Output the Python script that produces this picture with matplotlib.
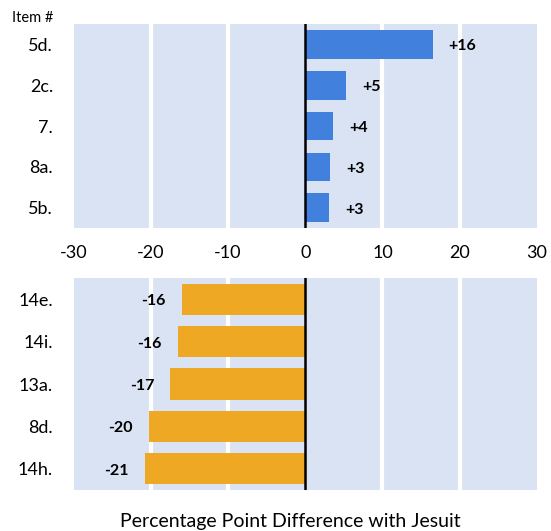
import matplotlib.pyplot as plt
import numpy as np

plt.rcParams['font.family'] = ['Lato', 'DejaVu Sans']

# 上面板：正向差异
top_items = ["5d.", "2c.", "7.", "8a.", "5b."]
top_vals = [16.5, 5.3, 3.6, 3.2, 3.1]
top_labels = ["+16", "+5", "+4", "+3", "+3"]

# 下面板：负向差异
bot_items = ["14e.", "14i.", "13a.", "8d.", "14h."]
bot_vals = [-16.0, -16.5, -17.5, -20.3, -20.8]
bot_labels = ["-16", "-16", "-17", "-20", "-21"]

xticks = [-30, -20, -10, 0, 10, 20, 30]

bg = "#dae3f3"
blue = "#4180dc"
orange = "#efa823"

fig = plt.figure(figsize=(5.51, 5.31), dpi=100)
ax1 = fig.add_axes([0.134, 0.5706, 0.840, 0.384])
ax2 = fig.add_axes([0.134, 0.0772, 0.840, 0.399])

def draw_panel(ax, items, vals, labels, color, height):
    ax.set_facecolor(bg)
    y = np.arange(len(items))
    for g in [-20, -10, 10, 20]:
        ax.axvline(g, color="white", lw=3, zorder=1)
    ax.barh(y, vals, height=height, color=color, zorder=2)
    ax.axvline(0, color="black", lw=1.8, zorder=3)
    for yi, v, lab in zip(y, vals, labels):
        off = 16 if v > 0 else -16
        ax.annotate(lab, (v, yi), xytext=(off, -2), textcoords="offset pixels",
                    ha="left" if v > 0 else "right", va="center",
                    fontsize=11.5, fontweight="bold", color="black")
    ax.set_xlim(-30, 30)
    ax.set_ylim(len(items) - 0.5, -0.5)
    ax.set_yticks(y)
    ax.set_yticklabels(items, fontsize=13)
    ax.tick_params(axis="y", length=0, pad=15)
    for s in ax.spines.values():
        s.set_visible(False)

draw_panel(ax1, top_items, top_vals, top_labels, blue, 0.7)
draw_panel(ax2, bot_items, bot_vals, bot_labels, orange, 0.74)

ax1.set_xticks(xticks)
ax1.set_xticklabels([str(t) for t in xticks], fontsize=13)
ax1.tick_params(axis="x", length=0, pad=12)
ax2.set_xticks([])

fig.text(53 / 551, 1 - 18 / 531, "Item #", fontsize=10.5, ha="right", va="center")
fig.text(290 / 551, 1 - 521 / 531, "Percentage Point Difference with Jesuit",
         fontsize=14, ha="center", va="center")

fig.savefig("out.png", dpi=100)
